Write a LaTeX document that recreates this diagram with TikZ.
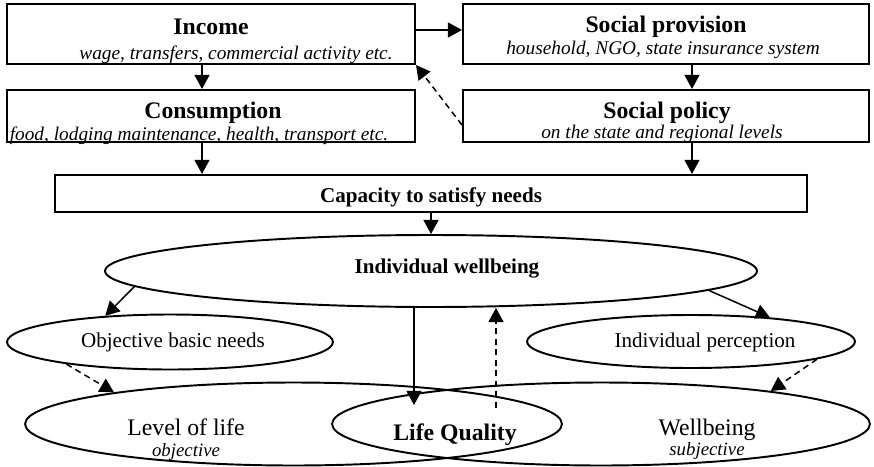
\documentclass[tikz,border=0pt]{standalone}
\usepackage{fontspec}
\setmainfont{Liberation Serif}
\usetikzlibrary{shapes.geometric,arrows.meta}

\begin{document}
\begin{tikzpicture}[x=0.02cm, y=-0.02cm,
    box/.style={rectangle, draw, line width=1.2pt, inner sep=0pt},
    oval/.style={ellipse, draw, line width=1.1pt, inner sep=0pt},
    title/.style={anchor=base, inner sep=0pt, font=\fontsize{13.5}{16}\selectfont\bfseries},
    sub/.style={anchor=base, inner sep=0pt, font=\fontsize{11}{13}\selectfont\itshape},
    midbold/.style={anchor=base, inner sep=0pt, font=\fontsize{12}{14}\selectfont\bfseries},
    plain/.style={anchor=base, inner sep=0pt, font=\fontsize{12}{14}\selectfont},
    big/.style={anchor=base, inner sep=0pt, font=\fontsize{13.5}{16}\selectfont},
    small/.style={anchor=base, inner sep=0pt, font=\fontsize{10.7}{13}\selectfont\itshape},
    arrow/.style={-{Triangle[length=8pt,width=8.5pt]}, line width=0.85pt},
    dasharrow/.style={arrow, dash pattern=on 3.5pt off 2.5pt}
]
    \useasboundingbox (0,0) rectangle (874,466);

    \node[box, minimum width=8.16cm, minimum height=1.2cm] (income) at (211,34) {};
    \node[box, minimum width=8.16cm, minimum height=1.04cm] (cons) at (211,116) {};
    \node[box, minimum width=8.12cm, minimum height=1.2cm] (prov) at (666,34) {};
    \node[box, minimum width=8.12cm, minimum height=1.04cm] (pol) at (666,116) {};
    \node[box, minimum width=15.04cm, minimum height=0.74cm] (cap) at (431,193.5) {};

    \node[oval, minimum width=13.04cm, minimum height=1.44cm] (iw) at (431,271) {};
    \node[oval, minimum width=6.52cm, minimum height=1.1cm] (obj) at (170,342) {};
    \node[oval, minimum width=6.56cm, minimum height=1.06cm] (indp) at (691,341.5) {};
    \node[oval, minimum width=10.74cm, minimum height=1.66cm] (lvl) at (293.5,424) {};
    \node[oval, minimum width=10.76cm, minimum height=1.66cm] (wb) at (601,424) {};

    \node[title] (inct) at (211,35) {Income};
    \node[sub] (incs) at (236,60) {wage, transfers, commercial activity etc.};
    \node[title] (const) at (213,118) {Consumption};
    \node[sub] (conss) at (199,140) {food, lodging maintenance, health, transport etc.};
    \node[title] (provt) at (666,33) {Social provision};
    \node[sub] (provs) at (663,55) {household, NGO, state insurance system};
    \node[title] (polt) at (667,118) {Social policy};
    \node[sub] (pols) at (662,138) {on the state and regional levels};
    \node[midbold] (capt) at (431,202) {Capacity to satisfy needs};
    \node[midbold] (iwt) at (447,273) {Individual wellbeing};
    \node[plain] (objt) at (173,347) {Objective basic needs};
    \node[plain] (indpt) at (705,347) {Individual perception};
    \node[big] (lvlt) at (186,435) {Level of life};
    \node[small] (lvls) at (186,456) {objective};
    \node[big] (wbt) at (707,435) {Wellbeing};
    \node[small] (wbs) at (707,455) {subjective};
    \node[title] (lqt) at (455,440) {Life Quality};

    \coordinate (lqin) at (414,405);
    \coordinate (lqout) at (496,408);

    \draw[arrow] ([xshift=-0.18cm]income.south) -- ([xshift=-0.18cm]cons.north);
    \draw[arrow] ([xshift=-0.18cm]cons.south) -- ([xshift=-0.18cm]cons.south |- cap.north);
    \draw[arrow] ([yshift=0.08cm]income.east) -- ([yshift=0.08cm]prov.west);
    \draw[arrow] ([xshift=0.52cm]prov.south) -- ([xshift=0.52cm]pol.north);
    \draw[arrow] ([xshift=0.52cm]pol.south) -- ([xshift=0.52cm]pol.south |- cap.north);
    \draw[dasharrow] ([yshift=-0.18cm]pol.west) -- (income.south east);
    \draw[arrow] (cap.south) -- (iw.north);
    \draw[arrow] (iw.183) -- (obj.158);
    \draw[arrow] (iw.356) -- (indp.17);
    \draw[arrow] (iw.south -| lqin) -- (lqin);
    \draw[dasharrow] (lqout) -- (lqout |- iw.south);
    \draw[dasharrow] (obj.192) -- (lvl.170);
    \draw[dasharrow] (indp.352) -- (wb.11.5);
\end{tikzpicture}
\end{document}
